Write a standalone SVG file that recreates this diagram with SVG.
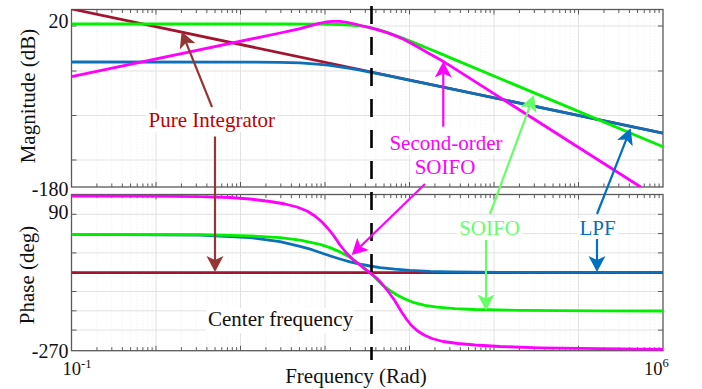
<svg xmlns="http://www.w3.org/2000/svg" xmlns:xlink="http://www.w3.org/1999/xlink" width="702" height="389" viewBox="0 0 702 389" font-family="'Liberation Serif', 'DejaVu Serif', serif">
<style>
text{font-family:'Liberation Serif','DejaVu Serif',serif}
.tick{font-size:20px;text-anchor:end;fill:#111}
.lab{font-size:21px;fill:#111}
.grid{stroke:#e2e2e2;stroke-width:1;fill:none}
.mgrid{stroke:#ececec;stroke-width:0.8;stroke-dasharray:1 2;fill:none}
.axis{fill:none;stroke:#5a5a5a;stroke-width:1.3}
.tk{stroke:#5a5a5a;stroke-width:1;fill:none}
.curve{fill:none;stroke-width:2.8;stroke-linejoin:round}
.arrow{fill:none;stroke-width:2.2}
.bg{fill:#fff}
</style>
<defs>
<clipPath id="cT"><rect x="71.5" y="9.5" width="591.5" height="177.5"/></clipPath>
<clipPath id="cB"><rect x="71.5" y="194.5" width="591.5" height="156.2"/></clipPath>
<path id="tk" d="M0,0v5M25.44,0v3.5M40.32,0v3.5M50.87,0v3.5M59.06,0v3.5M65.76,0v3.5M71.41,0v3.5M76.31,0v3.5M80.63,0v3.5"/>
<g id="tkrow" class="tk">
<use xlink:href="#tk" x="71.5"/><use xlink:href="#tk" x="156"/><use xlink:href="#tk" x="240.5"/><use xlink:href="#tk" x="325"/><use xlink:href="#tk" x="409.5"/><use xlink:href="#tk" x="494"/><use xlink:href="#tk" x="578.5"/>
</g>
<path id="mgT" d="M25.44,9.5V187M40.32,9.5V187M50.87,9.5V187M59.06,9.5V187M65.76,9.5V187M71.41,9.5V187M76.31,9.5V187M80.63,9.5V187"/>
<path id="mgB" d="M25.44,194.5V350.7M40.32,194.5V350.7M50.87,194.5V350.7M59.06,194.5V350.7M65.76,194.5V350.7M71.41,194.5V350.7M76.31,194.5V350.7M80.63,194.5V350.7"/>
<marker id="aR" viewBox="0 0 17 18" refX="6" refY="9" markerWidth="17" markerHeight="18" markerUnits="userSpaceOnUse" orient="auto"><path d="M16,9L0,0.5L4,9L0,17.5Z" fill="#963634"/></marker>
<marker id="aM" viewBox="0 0 17 18" refX="6" refY="9" markerWidth="17" markerHeight="18" markerUnits="userSpaceOnUse" orient="auto"><path d="M16,9L0,0.5L4,9L0,17.5Z" fill="#ff00ff"/></marker>
<marker id="aG" viewBox="0 0 17 18" refX="6" refY="9" markerWidth="17" markerHeight="18" markerUnits="userSpaceOnUse" orient="auto"><path d="M16,9L0,0.5L4,9L0,17.5Z" fill="#66ff66"/></marker>
<marker id="aB" viewBox="0 0 17 18" refX="6" refY="9" markerWidth="17" markerHeight="18" markerUnits="userSpaceOnUse" orient="auto"><path d="M16,9L0,0.5L4,9L0,17.5Z" fill="#0070c0"/></marker>
</defs>
<rect width="702" height="389" fill="#fff"/>

<g id="grid">
<g class="mgrid">
<use xlink:href="#mgT" x="71.5"/><use xlink:href="#mgT" x="156"/><use xlink:href="#mgT" x="240.5"/><use xlink:href="#mgT" x="325"/><use xlink:href="#mgT" x="409.5"/><use xlink:href="#mgT" x="494"/><use xlink:href="#mgT" x="578.5"/>
<use xlink:href="#mgB" x="71.5"/><use xlink:href="#mgB" x="156"/><use xlink:href="#mgB" x="240.5"/><use xlink:href="#mgB" x="325"/><use xlink:href="#mgB" x="409.5"/><use xlink:href="#mgB" x="494"/><use xlink:href="#mgB" x="578.5"/>
</g>
<path class="grid" d="M156,9.5V187M240.5,9.5V187M325,9.5V187M409.5,9.5V187M494,9.5V187M578.5,9.5V187M71.5,26H663M71.5,71H663M71.5,115.5H663M71.5,160H663"/>
<path class="grid" d="M156,194.5V350.7M240.5,194.5V350.7M325,194.5V350.7M409.5,194.5V350.7M494,194.5V350.7M578.5,194.5V350.7M71.5,214.3H663M71.5,233.6H663M71.5,252.9H663M71.5,272.2H663M71.5,291.5H663M71.5,310.8H663M71.5,330.1H663"/>
</g>

<g id="axes">
<rect class="axis" x="71.5" y="9.5" width="591.5" height="177.5"/>
<rect class="axis" x="71.5" y="194.5" width="591.5" height="156.2"/>
<use xlink:href="#tkrow" transform="translate(0,9.5)"/>
<use xlink:href="#tkrow" transform="translate(0,187) scale(1,-1)"/>
<use xlink:href="#tkrow" transform="translate(0,194.5)"/>
<use xlink:href="#tkrow" transform="translate(0,350.7) scale(1,-1)"/>
<path class="tk" d="M71.5,26h5M71.5,71h5M71.5,115.5h5M71.5,160h5M663,26h-5M663,71h-5M663,115.5h-5M663,160h-5M71.5,214.3h5M71.5,233.6h5M71.5,252.9h5M71.5,272.2h5M71.5,291.5h5M71.5,310.8h5M71.5,330.1h5M663,214.3h-5M663,233.6h-5M663,252.9h-5M663,272.2h-5M663,291.5h-5M663,310.8h-5M663,330.1h-5"/>
<text class="tick" x="68.5" y="28.3">20</text>
<text class="tick" x="68.5" y="195.5">-180</text>
<text class="tick" x="68.5" y="218.5">90</text>
<text class="tick" x="68.5" y="358">-270</text>
<text x="62.5" y="375" font-size="18.5" fill="#111">10<tspan font-size="12.5" dy="-7">-1</tspan></text>
<text x="644" y="375" font-size="18.5" fill="#111">10<tspan font-size="12.5" dy="-8.5">6</tspan></text>
<text class="lab" x="356" y="383" text-anchor="middle">Frequency (Rad)</text>
<text class="lab" transform="translate(34.5,96) rotate(-90)" text-anchor="middle">Magnitude (dB)</text>
<text class="lab" transform="translate(34,275) rotate(-90)" text-anchor="middle">Phase (deg)</text>
</g>

<g id="magnitude-curves" clip-path="url(#cT)">
<path id="mag-pure-integrator" class="curve" stroke="#a2142f" d="M71.5,9L663,133.2"/>
<path id="mag-lpf" class="curve" stroke="#0b6fba" d="M71.5,62L250,62.07L280,62.35L300,62.97L310,63.54L323,64.66L330,65.47L340,66.84L350,68.45L360,70.2L370,72.13L380,74.1L390,76.13L410,80.26L430,84.42L450,88.6L663,133.2"/>
<path id="mag-soifo" class="curve" stroke="#00f000" d="M71.5,24L280,24.02L320,24.15L340,24.5L350,25.01L360,25.83L365,26.52L370,27.61L375,28.77L380,30.14L387,32.36L395,35.2L402,37.87L410,41.04L420,45.1L430,49.2L440,53.37L450,57.6L663,146.8"/>
<path id="mag-second-order" class="curve" stroke="#ff00ff" d="M71.5,76.7L280,33L290,30.9L300,28.6L310,25.8L318,23.6L326,22L333,21.3L340,21.3L347,22.3L355,24L363,26L370,27.7L378,29.8L387,32.6L395,35.6L403,39L411,43.2L420,48.2L430,54L440,59.5L450,65.6L641.5,187.5"/>
</g>

<g id="phase-curves" clip-path="url(#cB)">
<path id="ph-pure-integrator" class="curve" stroke="#a2142f" d="M71.5,272.6L663,272.6"/>
<path id="ph-lpf" class="curve" stroke="#0b6fba" d="M71.5,234.3L200,235.15L250,237.6L280,241.6L300,246.3L312,249.7L323,253.5L332,256.5L340,259L350,261.9L360,264.1L370,266L380,267.6L395,269.2L410,270.4L430,271.4L450,271.9L500,272.3L663,272.4"/>
<path id="ph-soifo" class="curve" stroke="#00f000" d="M71.5,234.3L200,234.7L250,235.8L280,237.7L300,240.1L320,244.4L330,247.6L340,251.9L348,256.2L355,260.9L362,266.3L370,272.6L377,279.5L383,285.4L390,290.5L397,295L405,299L413,302.3L425,305.3L437,307.2L455,308.6L475,309.5L520,310.4L600,310.9L663,311"/>
<path id="ph-second-order" class="curve" stroke="#ff00ff" d="M71.5,196L150,196.2L200,196.7L230,197.5L250,199L270,201.5L285,204L297,207L307,211L315,216L322,222L328,228.5L334,236L340,245L346,252.5L353,259.5L360,265L366,269.8L371,273.5L377,278.5L383,285L389,292.5L395,301L401,311L406,318.5L411,325L417,330.5L424,335L432,338.5L443,341.5L458,343.5L475,345L500,346.5L540,347.8L600,348.7L663,349.3"/>
</g>

<g id="center-frequency-line">
<path d="M371.5,6V360" fill="none" stroke="#000" stroke-width="2.6" stroke-dasharray="18 13"/>
</g>

<g id="label-pure-integrator">
<rect class="bg" x="146" y="110" width="131" height="22"/>
<text x="148.5" y="126.7" font-size="21" fill="#c00000">Pure Integrator</text>
</g>
<g id="label-second-order">
<rect class="bg" x="387" y="133" width="118" height="22"/>
<rect class="bg" x="412" y="158" width="66" height="21"/>
<text x="446" y="150" font-size="21" fill="#ff00ff" text-anchor="middle">Second-order</text>
<text x="445" y="174" font-size="21" fill="#ff00ff" text-anchor="middle">SOIFO</text>
</g>
<g id="label-soifo">
<rect class="bg" x="457" y="218" width="65" height="22"/>
<text x="489.5" y="235" font-size="21" fill="#66ff66" text-anchor="middle">SOIFO</text>
</g>
<g id="label-lpf">
<rect class="bg" x="577" y="218" width="41" height="22"/>
<text x="597.5" y="235" font-size="21" fill="#0070c0" text-anchor="middle">LPF</text>
</g>
<g id="label-center-frequency">
<rect class="bg" x="206" y="308" width="148" height="25"/>
<text x="208" y="326" font-size="21" fill="#111">Center frequency</text>
</g>

<g id="connectors">
<path class="arrow" stroke="#963634" marker-end="url(#aR)" d="M212,107L185.4,40.8"/>
<path class="arrow" stroke="#963634" marker-end="url(#aR)" d="M215,136.5L215,262"/>
<path class="arrow" stroke="#ff00ff" marker-end="url(#aM)" d="M443.3,126.7L443.3,71.5"/>
<path class="arrow" stroke="#ff00ff" marker-end="url(#aM)" d="M425,184L358.9,248"/>
<path class="arrow" stroke="#66ff66" marker-end="url(#aG)" d="M490,214L530.5,104.4"/>
<path class="arrow" stroke="#66ff66" marker-end="url(#aG)" d="M486,240L486,300.5"/>
<path class="arrow" stroke="#0070c0" marker-end="url(#aB)" d="M597,214L627,137.6"/>
<path class="arrow" stroke="#0070c0" marker-end="url(#aB)" d="M597,239L597,262"/>
</g>
</svg>
